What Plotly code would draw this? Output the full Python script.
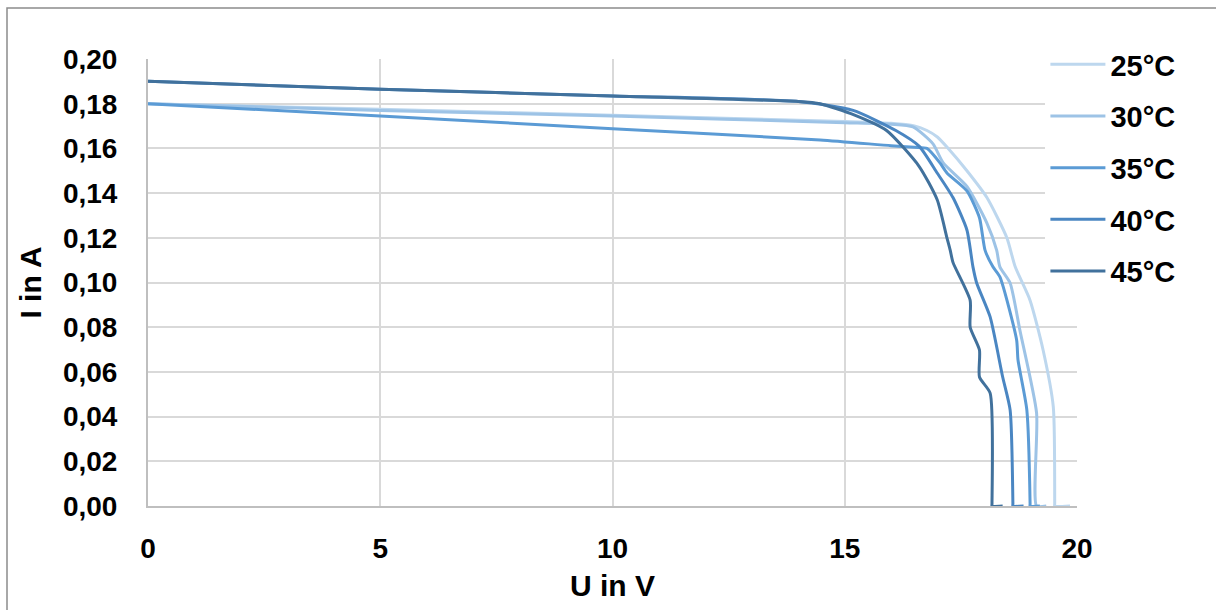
import plotly.graph_objects as go

# ---- data ----
names = ["25°C", "30°C", "35°C", "40°C", "45°C"]
colors = ["#bdd7ee", "#9dc3e6", "#5b9bd5", "#4a86c2", "#41719c"]

u_25 = [0, 5, 10, 15, 16.0, 16.5, 16.77, 17.0, 17.2, 17.63, 18.06, 18.49, 18.67, 18.99, 19.27, 19.49, 19.52, 19.52, 19.85]
i_25 = [0.180, 0.1775, 0.1748, 0.1720, 0.1712, 0.1700, 0.1680, 0.1650, 0.1606, 0.1500, 0.1380, 0.1200, 0.1070, 0.0920, 0.0698, 0.0443, 0.0010, 0.0, 0.0]

u_30 = [0, 5, 10, 15, 16.0, 16.47, 16.9, 17.12, 17.63, 18.06, 18.27, 18.34, 18.56, 18.77, 19.13, 19.13, 19.34]
i_30 = [0.180, 0.1770, 0.1745, 0.1715, 0.1708, 0.1696, 0.1620, 0.1535, 0.1430, 0.1266, 0.1145, 0.1070, 0.0998, 0.0787, 0.0416, 0.0, 0.0]

u_35 = [0, 5, 10, 14.47, 16.0, 16.5, 16.77, 17.05, 17.2, 17.63, 17.9, 18.02, 18.19, 18.34, 18.7, 18.73, 18.92, 18.99, 18.99, 19.2]
i_35 = [0.180, 0.1745, 0.1688, 0.1638, 0.1612, 0.1605, 0.1600, 0.1535, 0.1490, 0.1410, 0.1290, 0.1145, 0.1070, 0.1025, 0.0743, 0.0653, 0.0430, 0.0010, 0.0, 0.0]

u_40 = [0, 5, 10, 14.0, 15.18, 16.1, 16.6, 16.99, 17.33, 17.63, 17.76, 17.84, 18.13, 18.4, 18.56, 18.62, 18.62, 18.85]
i_40 = [0.190, 0.1865, 0.1835, 0.1810, 0.1770, 0.1680, 0.1610, 0.1490, 0.1380, 0.1235, 0.1070, 0.0998, 0.0846, 0.0577, 0.0430, 0.0010, 0.0, 0.0]

u_45 = [0, 5, 10, 14.0, 14.47, 15.2, 15.9, 16.6, 16.99, 17.2, 17.27, 17.33, 17.7, 17.7, 17.9, 17.9, 18.13, 18.17, 18.17, 18.4]
i_45 = [0.190, 0.1865, 0.1835, 0.1810, 0.1800, 0.1750, 0.1680, 0.1520, 0.1370, 0.1200, 0.1145, 0.1090, 0.0920, 0.0800, 0.0698, 0.0577, 0.0505, 0.0010, 0.0, 0.0]

series_u = [u_25, u_30, u_35, u_40, u_45]
series_i = [i_25, i_30, i_35, i_40, i_45]

x_ticks = [0, 5, 10, 15, 20]
y_ticks = [0.00, 0.02, 0.04, 0.06, 0.08, 0.10, 0.12, 0.14, 0.16, 0.18, 0.20]

FONT = "Liberation Sans, Arial, sans-serif"

fig = go.Figure()
for name, col, u, i in zip(names, colors, series_u, series_i):
    fig.add_trace(go.Scatter(
        x=u, y=i, mode="lines", name=name, legendgroup=name,
        line=dict(color=col, width=3, shape="spline", smoothing=0.6),
    ))

fig.update_layout(
    width=1216, height=610,
    margin=dict(l=148, r=139, t=59, b=104),
    paper_bgcolor="white", plot_bgcolor="white",
    separators=",.",
    font=dict(family=FONT, color="black", size=28),
    showlegend=True,
    legend=dict(
        x=0.966, y=1.045, xanchor="left", yanchor="top",
        bgcolor="white", borderwidth=0,
        font=dict(family=FONT, size=29, color="black", weight="bold"),
        tracegroupgap=11, itemwidth=55,
    ),
    xaxis=dict(
        range=[0, 20], tickvals=x_ticks, ticktext=[str(v) for v in x_ticks],
        showgrid=True, gridcolor="#d9d9d9", gridwidth=1.5,
        showline=True, linecolor="#bfbfbf", linewidth=2,
        zeroline=False, ticks="", ticklabelstandoff=16,
        tickfont=dict(family=FONT, size=28, color="black", weight="bold"),
        title=dict(text="U in V", standoff=12,
                   font=dict(family=FONT, size=30, color="black", weight="bold")),
    ),
    yaxis=dict(
        range=[0, 0.20], tickvals=y_ticks, tickformat=".2f",
        showgrid=True, gridcolor="#d9d9d9", gridwidth=1.5,
        showline=True, linecolor="#bfbfbf", linewidth=2,
        zeroline=False, ticks="", ticklabelstandoff=23,
        tickfont=dict(family=FONT, size=28, color="black", weight="bold"),
        title=dict(text="I in A", standoff=12,
                   font=dict(family=FONT, size=30, color="black", weight="bold")),
    ),
    shapes=[dict(type="rect", xref="paper", yref="paper",
                 x0=(7 - 148) / 929, x1=1.3, y0=-0.4, y1=(506 - 8) / 447,
                 line=dict(color="#8c8c8c", width=1.5), fillcolor="rgba(0,0,0,0)",
                 layer="below")],
)

fig.write_html("out.html")
